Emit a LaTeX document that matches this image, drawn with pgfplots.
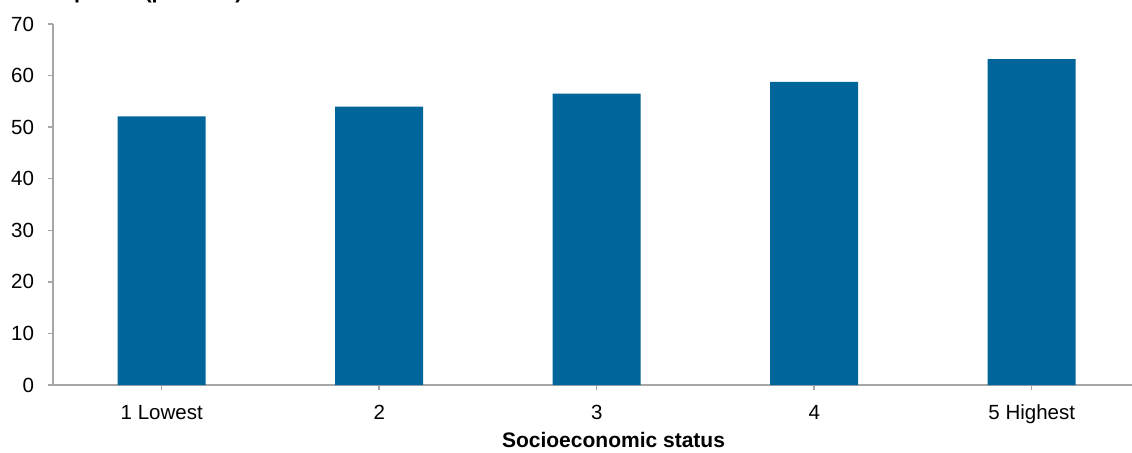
\documentclass[border=0pt]{standalone}
\usepackage{pgfplots}
\pgfplotsset{compat=1.18}
\usepackage{fontspec}
\setmainfont{Liberation Sans}
\definecolor{barblue}{RGB}{0,101,154}
\definecolor{axgray}{RGB}{166,166,166}
\begin{document}
\begin{tikzpicture}[x=1pt,y=1pt]
\begin{axis}[
 at={(26.5pt,33.5pt)}, anchor=south west,
 scale only axis, width=543.75pt, height=180.5pt,
 xmin=-0.5, xmax=4.5, ymin=0, ymax=70,
 ytick={0,10,...,70},
 xtick=data, xticklabels={1 Lowest,2,3,4,5 Highest},
 axis x line*=bottom, axis y line*=left,
 axis line style={axgray, line width=0.75pt, -},
 tick style={axgray, line width=0.75pt},
 tick align=outside, major tick length=2.5pt,
 ybar, bar width=44pt,
 ticklabel style={font=\fontsize{10.25}{12}\selectfont, text=black},
 yticklabel style={xshift=-3.5pt},
 xticklabel style={yshift=-4pt},
 /pgf/number format/assume math mode=true,
 clip=false,
]
\addplot[fill=barblue, draw=none] coordinates {(0,52.1) (1,54) (2,56.5) (3,58.8) (4,63.2)};
\end{axis}
\pgfresetboundingbox
\useasboundingbox (0,0) rectangle (566pt,226pt);
\node[anchor=center, inner sep=0, font=\bfseries\fontsize{10.5}{12}\selectfont] at (306.75pt,6pt) {Socioeconomic status};
\node[anchor=base west, inner sep=0, font=\bfseries\fontsize{10.75}{12}\selectfont] at (4pt,226.75pt) {Participation (per cent)};
\end{tikzpicture}
\end{document}
